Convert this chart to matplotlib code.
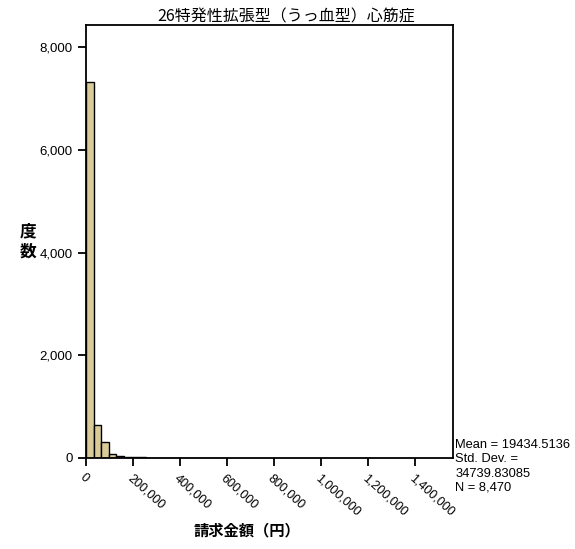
import numpy as np
import matplotlib
matplotlib.use('Agg')
import matplotlib.pyplot as plt
from matplotlib.ticker import FuncFormatter

plt.rcParams['font.family'] = ['Liberation Sans', 'Noto Sans CJK JP', 'DejaVu Sans']

# histogram bins (width in yen) and counts
bin_width = 32000
counts = [7330, 640, 310, 80, 40, 20, 12, 8, 6, 5, 4, 3, 2, 2, 1, 1, 1, 1]
bin_edges = np.arange(len(counts) + 1) * bin_width

title = '26特発性拡張型（うっ血型）心筋症'
xlabel = '請求金額（円）'
ylabel = '度\n数'
stats = ['Mean = 19434.5136', 'Std. Dev. =', '34739.83085', 'N = 8,470']
xticks = [0, 200000, 400000, 600000, 800000, 1000000, 1200000, 1400000]
yticks = [0, 2000, 4000, 6000, 8000]

fig = plt.figure(figsize=(5.75, 5.49), dpi=100)
ax = fig.add_axes([0.1496, 0.166, 0.639, 0.788])

ax.bar(bin_edges[:-1], counts, width=bin_width, align='edge',
       color='#d9cb98', edgecolor='black', linewidth=1.0)

ax.set_xlim(0, 1565000)
ax.set_ylim(0, 8430)
ax.set_xticks(xticks)
ax.set_yticks(yticks)
fmt = FuncFormatter(lambda v, p: f'{int(v):,}')
ax.xaxis.set_major_formatter(fmt)
ax.yaxis.set_major_formatter(fmt)
ax.tick_params(direction='out', length=6, width=1.3, labelsize=9.5, colors='black')
ax.tick_params(axis='x', pad=4, labelsize=9)
for lab in ax.get_xticklabels():
    lab.set_rotation(-42)
    lab.set_ha('left')
    lab.set_va('top')
    lab.set_rotation_mode('anchor')
for s in ax.spines.values():
    s.set_linewidth(1.3)

ax.set_title(title, fontsize=11.5, pad=3, x=0.545,
             family=['Noto Sans CJK JP', 'DejaVu Sans'])
fig.text(0.43, 0.025, xlabel, fontsize=11, fontweight='bold', ha='center',
         family=['Noto Sans CJK JP', 'DejaVu Sans'])
fig.text(0.048, 0.56, ylabel, fontsize=12, fontweight='bold', ha='center',
         va='center', linespacing=1.2, family=['Noto Sans CJK JP', 'DejaVu Sans'])

ax.text(1.005, -0.02, '\n'.join(stats), transform=ax.transAxes, fontsize=9.3,
        ha='left', va='center', linespacing=1.25)

fig.savefig('out.png', dpi=100)
